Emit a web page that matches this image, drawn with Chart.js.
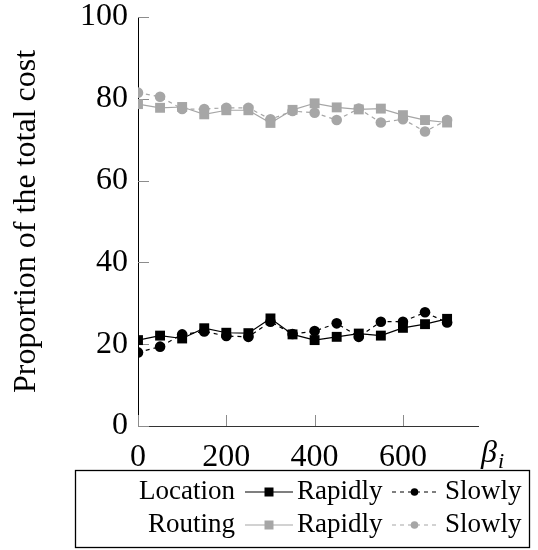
<!DOCTYPE html>
<html>
<head>
<meta charset="utf-8">
<script src="https://cdn.jsdelivr.net/npm/chart.js@4"></script>
<style>
  html, body { margin: 0; padding: 0; background: #fff; }
  #wrap { width: 538px; height: 550px; }
</style>
</head>
<body>
<div id="wrap"><canvas id="costChart" width="538" height="550"></canvas></div>
<script>
const ctx = document.getElementById('costChart');

// beta_i values on the x axis
const betaValues = [0, 50, 100, 150, 200, 250, 300, 350, 400, 450, 500, 550, 600, 650, 700];
const xTicks = [0, 200, 400, 600];
const yTicks = [0, 20, 40, 60, 80, 100];

// share of the total cost (%)
const locationRapidly = [21.0, 22.1, 21.4, 23.9, 22.8, 22.7, 26.3, 22.4, 21.0, 21.8, 22.6, 22.1, 24.0, 24.9, 26.2];
const locationSlowly  = [18.0, 19.4, 22.4, 23.1, 22.0, 21.8, 25.5, 22.5, 23.2, 25.1, 21.8, 25.5, 25.5, 27.8, 25.3];
const routingRapidly  = [78.7, 77.8, 78.0, 76.2, 77.2, 77.2, 74.1, 77.3, 78.9, 77.9, 77.4, 77.6, 76.0, 74.8, 74.2];
const routingSlowly   = [81.5, 80.5, 77.5, 77.5, 77.8, 77.8, 75.0, 77.0, 76.6, 74.8, 77.6, 74.2, 75.0, 72.0, 74.8];

const SERIF = '"Liberation Serif", "Times New Roman", serif';
const BLACK = '#000000';
const GREY = '#a6a6a6';

function pts(values) {
    return values.map((v, i) => ({ x: betaValues[i], y: v }));
}

function series(label, values, color, dashed) {
    const square = !dashed;
    return {
        label: label,
        data: pts(values),
        borderColor: color,
        backgroundColor: color,
        borderWidth: 1.2,
        borderDash: dashed ? [4, 4] : [],
        pointStyle: square ? 'rect' : 'circle',
        pointRadius: square ? 7 : 5.3,
        pointBorderWidth: 0,
        pointBackgroundColor: color,
        tension: 0
    };
}

const dataset = [
    series('Location Rapidly', locationRapidly, BLACK, false),
    series('Location Slowly', locationSlowly, BLACK, true),
    series('Routing Rapidly', routingRapidly, GREY, false),
    series('Routing Slowly', routingSlowly, GREY, true)
];

// small inward tick marks on both axes
const innerTicks = {
    id: 'innerTicks',
    beforeDatasetsDraw(chart) {
        const c = chart.ctx;
        const xs = chart.scales.x, ys = chart.scales.y;
        const area = chart.chartArea;
        c.save();
        c.strokeStyle = '#8c8c8c';
        c.lineWidth = 1;
        xTicks.forEach(t => {
            const px = Math.round(xs.getPixelForValue(t)) + 0.5;
            c.beginPath();
            c.moveTo(px, area.bottom);
            c.lineTo(px, area.bottom - 11);
            c.stroke();
        });
        yTicks.forEach(t => {
            const py = Math.round(ys.getPixelForValue(t)) + 0.5;
            c.beginPath();
            c.moveTo(area.left, py);
            c.lineTo(area.left + 11, py);
            c.stroke();
        });
        c.restore();
    }
};

// beta_i axis label and the two-row legend box
const extras = {
    id: 'extras',
    afterDraw(chart) {
        const c = chart.ctx;
        c.save();
        c.fillStyle = '#000';
        c.textBaseline = 'alphabetic';
        c.textAlign = 'left';
        c.font = 'italic 32px ' + SERIF;
        c.fillText('\u03B2', 481, 462);
        c.font = 'italic 22px ' + SERIF;
        c.fillText('i', 498, 468);

        // legend frame
        c.strokeStyle = '#000';
        c.lineWidth = 1.3;
        c.strokeRect(75.5, 470.5, 454, 77);

        const rows = [
            { name: 'Location', sets: [0, 1], base: 499, mid: 492 },
            { name: 'Routing', sets: [2, 3], base: 532, mid: 525 }
        ];
        rows.forEach(r => {
            c.font = '27px ' + SERIF;
            c.fillStyle = '#000';
            c.textAlign = 'right';
            c.fillText(r.name, 235, r.base);
            c.textAlign = 'left';
            c.fillText('Rapidly', 297, r.base);
            c.fillText('Slowly', 445, r.base);

            const samples = [[245, 293], [392, 437]];
            r.sets.forEach((di, k) => {
                const ds = chart.data.datasets[di];
                const [x0, x1] = samples[k];
                c.strokeStyle = ds.borderColor;
                c.lineWidth = 1.2;
                c.setLineDash(ds.borderDash);
                c.beginPath();
                c.moveTo(x0, r.mid);
                c.lineTo(x1, r.mid);
                c.stroke();
                c.setLineDash([]);
                c.fillStyle = ds.backgroundColor;
                const cx = (x0 + x1) / 2;
                c.beginPath();
                if (ds.pointStyle === 'rect') {
                    c.rect(cx - 4.5, r.mid - 4.5, 9, 9);
                } else {
                    c.arc(cx, r.mid, 3.8, 0, Math.PI * 2);
                }
                c.fill();
            });
        });
        c.restore();
    }
};

new Chart(ctx, {
    type: 'line',
    data: { datasets: dataset },
    options: {
        responsive: false,
        animation: false,
        layout: { padding: { top: 17, right: 60, left: 0, bottom: 0 } },
        plugins: {
            legend: { display: false },
            tooltip: { enabled: false }
        },
        scales: {
            x: {
                type: 'linear',
                min: 0,
                max: 770,
                afterBuildTicks: s => { s.ticks = xTicks.map(v => ({ value: v })); },
                afterFit: s => { s.height = 124; s.paddingLeft = 0; s.paddingRight = 0; },
                grid: { display: false, drawTicks: false },
                border: { display: true, color: '#333', width: 1 },
                ticks: {
                    color: '#000',
                    padding: 12,
                    maxRotation: 0,
                    font: { family: SERIF, size: 32 }
                }
            },
            y: {
                min: 0,
                max: 100,
                afterBuildTicks: s => { s.ticks = yTicks.map(v => ({ value: v })); },
                afterFit: s => { s.width = 138; s.paddingTop = 0; s.paddingBottom = 0; },
                grid: { display: false, drawTicks: false },
                border: { display: true, color: '#000', width: 1 },
                ticks: {
                    color: '#000',
                    padding: 10,
                    font: { family: SERIF, size: 32 }
                },
                title: {
                    display: true,
                    text: 'Proportion of the total cost',
                    color: '#000',
                    padding: { top: 7, bottom: 0 },
                    font: { family: SERIF, size: 32 }
                }
            }
        }
    },
    plugins: [innerTicks, extras]
});
</script>
</body>
</html>
